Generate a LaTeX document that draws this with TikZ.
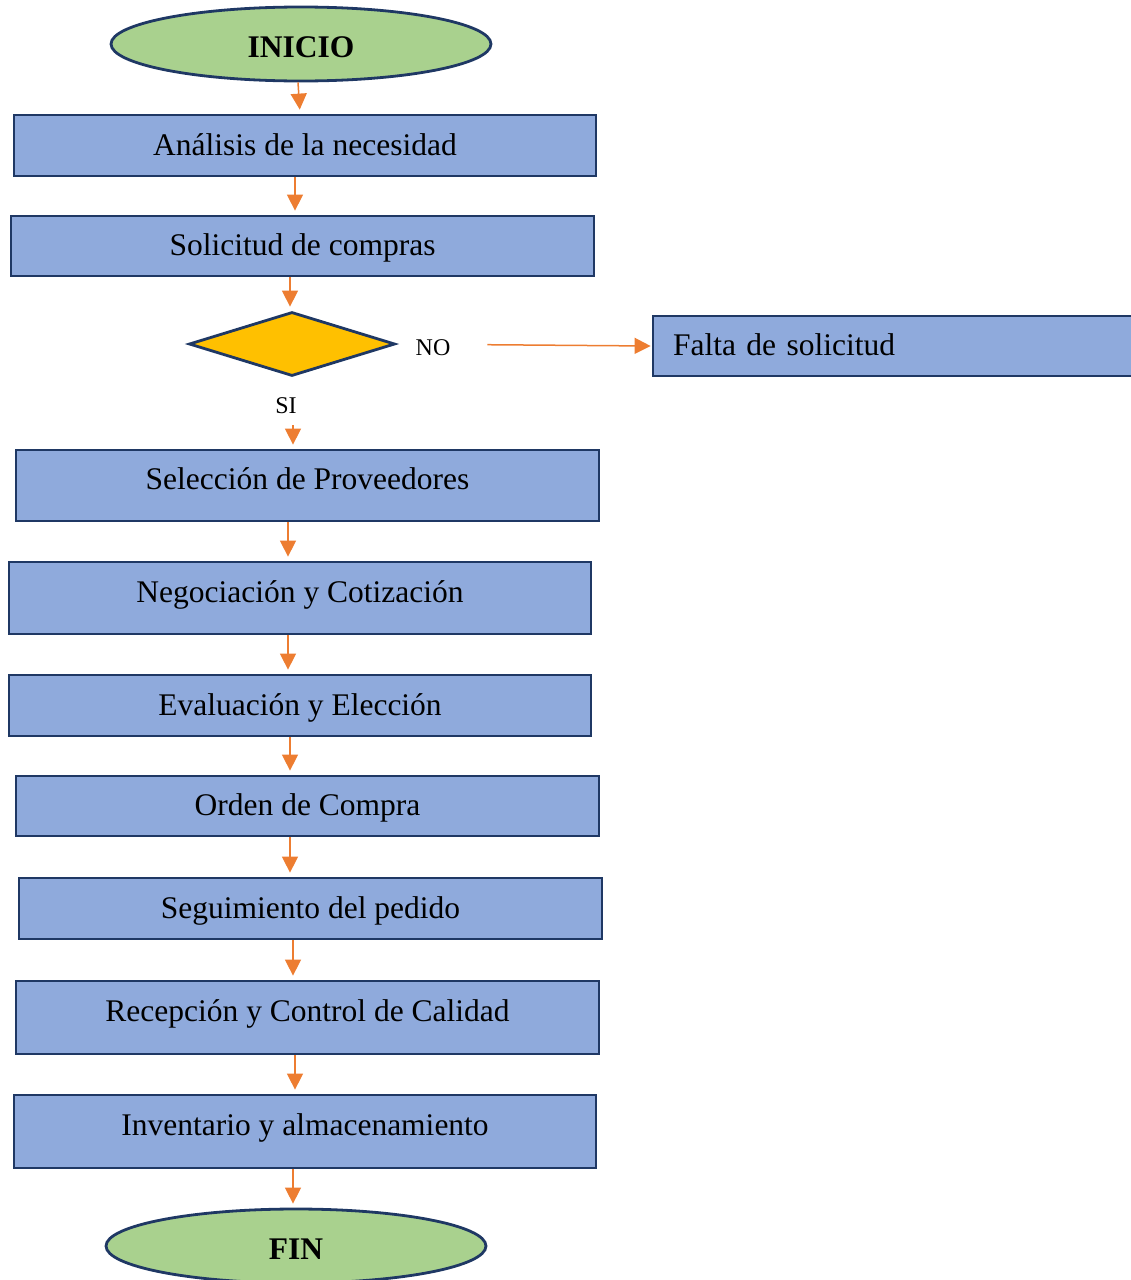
\documentclass[tikz,border=0pt]{standalone}
\usepackage{fontspec}
\setmainfont{Liberation Serif}
\usetikzlibrary{shapes.geometric,arrows.meta}
\definecolor{boxfill}{HTML}{8FAADC}
\definecolor{navy}{HTML}{1F3864}
\definecolor{termfill}{HTML}{A9D18E}
\definecolor{decfill}{HTML}{FFC000}
\definecolor{arrcol}{HTML}{ED7D31}
\tikzset{
  box/.style={draw=navy, line width=2.8pt, fill=boxfill, rectangle, inner sep=0pt,
    font=\fontsize{31.5}{36}\selectfont, text height=24pt, text depth=5pt},
  tallbox/.style={box, text height=14pt, text depth=6pt},
  term/.style={draw=navy, line width=2.8pt, fill=termfill, ellipse, inner sep=0pt,
    minimum width=380pt, minimum height=74pt,
    font=\fontsize{31.5}{36}\selectfont\bfseries, text height=30pt, text depth=3pt},
  decision/.style={draw=navy, line width=2.8pt, fill=decfill, diamond, inner sep=0pt,
    minimum width=206pt, minimum height=64pt},
  lbl/.style={font=\fontsize{24}{28}\selectfont, inner sep=0pt, anchor=base},
  arr/.style={draw=arrcol, line width=1.5pt, -{Triangle[length=16pt,width=16pt]}, shorten >=4pt}
}
\begin{document}
\begin{tikzpicture}[x=1pt,y=-1pt]
\useasboundingbox (0,0) rectangle (1131,1280);
\node[term] (inicio) at (301,44) {INICIO};
\node[box, minimum width=582pt, minimum height=61pt] (b1) at (305,145.5) {Análisis de la necesidad};
\node[box, minimum width=583pt, minimum height=60pt] (b2) at (302.5,246) {Solicitud de compras};
\node[decision] (dia) at (292,344) {};
\node[box, text width=448pt, align=left, inner xsep=20pt, minimum height=60pt] (falta) at (897,346) {Falta de solicitud};
\node[tallbox, minimum width=583pt, minimum height=71pt] (b3) at (307.5,485.5) {Selección de Proveedores};
\node[tallbox, minimum width=582pt, minimum height=72pt] (b4) at (300,598) {Negociación y Cotización};
\node[box, minimum width=582pt, minimum height=61pt] (b5) at (300,705.5) {Evaluación y Elección};
\node[box, minimum width=583pt, minimum height=60pt] (b6) at (307.5,806) {Orden de Compra};
\node[box, minimum width=583pt, minimum height=61pt] (b7) at (310.5,908.5) {Seguimiento del pedido};
\node[tallbox, minimum width=583pt, minimum height=73pt] (b8) at (307.5,1017.5) {Recepción y Control de Calidad};
\node[tallbox, minimum width=582pt, minimum height=73pt] (b9) at (305,1131.5) {Inventario y almacenamiento};
\node[term] (fin) at (296,1246) {FIN};
\node[lbl] (no) at (433,355) {NO};
\node[lbl] (si) at (286,413) {SI};
\draw[arr] ([xshift=-3pt]inicio.south) -- ([xshift=-5pt]b1.north);
\draw[arr] ([xshift=-10pt]b1.south) -- ([xshift=-7.5pt]b2.north);
\draw[arr] ([xshift=-12.5pt]b2.south) -- ([xshift=-2pt]dia.north);
\draw[arr, shorten <=48pt] ([xshift=1pt]dia.south) -- ([xshift=-14.5pt]b3.north);
\draw[arr, shorten <=91pt, shorten >=1pt] (dia.east) -- (falta.west);
\draw[arr] ([xshift=-19.5pt]b3.south) -- ([xshift=-12pt]b4.north);
\draw[arr] ([xshift=-12pt]b4.south) -- ([xshift=-12pt]b5.north);
\draw[arr] ([xshift=-10pt]b5.south) -- ([xshift=-17.5pt]b6.north);
\draw[arr] ([xshift=-17.5pt]b6.south) -- ([xshift=-20.5pt]b7.north);
\draw[arr] ([xshift=-17.5pt]b7.south) -- ([xshift=-14.5pt]b8.north);
\draw[arr] ([xshift=-12.5pt]b8.south) -- ([xshift=-10pt]b9.north);
\draw[arr] ([xshift=-12pt]b9.south) -- ([xshift=-3pt]fin.north);
\end{tikzpicture}
\end{document}
